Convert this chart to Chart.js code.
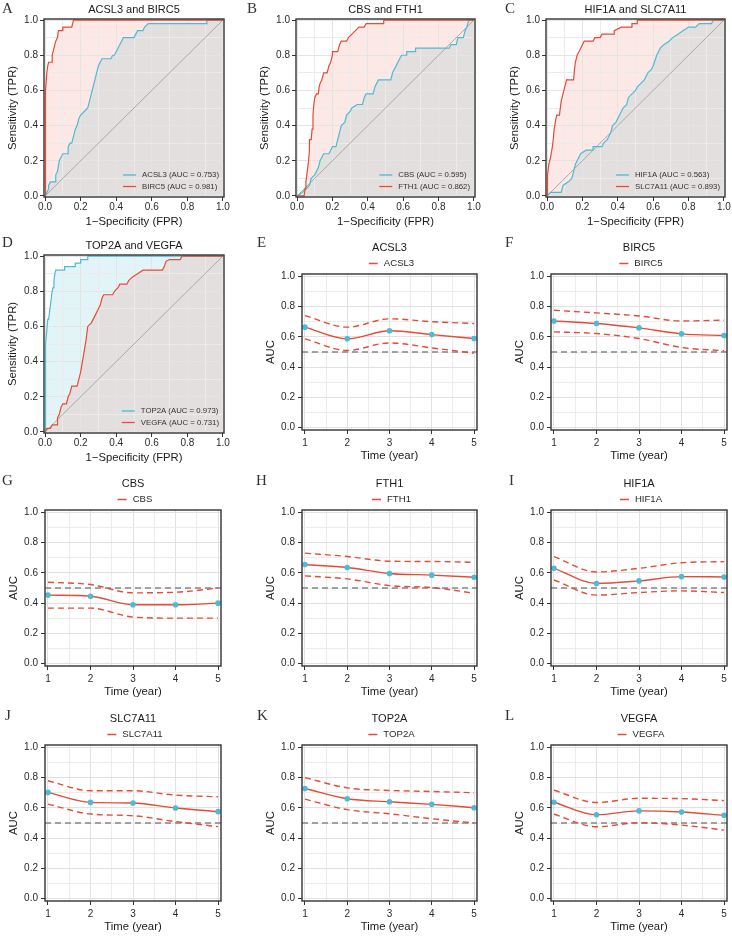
<!DOCTYPE html>
<html>
<head>
<meta charset="utf-8">
<script src="https://cdn.jsdelivr.net/npm/chart.js@4.4.1/dist/chart.umd.min.js"></script>
<style>
  html, body { margin: 0; padding: 0; background: #fff; }
  #fig { position: relative; width: 732px; height: 936px; }
  #fig canvas { position: absolute; left: 0; top: 0; }
</style>
</head>
<body>
<div id="fig"></div>
<script>
// ---- ROC curves: [FPR, TPR] corner points ----
const rocACSL3 = [[0,0],[0.01,0.02],[0.02,0.04],[0.02,0.06],[0.03,0.08],[0.06,0.08],[0.06,0.12],[0.07,0.14],[0.08,0.2],[0.09,0.22],[0.1,0.24],[0.13,0.24],[0.13,0.28],[0.14,0.3],[0.15,0.3],[0.16,0.34],[0.17,0.38],[0.18,0.4],[0.19,0.44],[0.2,0.46],[0.22,0.48],[0.24,0.5],[0.25,0.54],[0.26,0.58],[0.27,0.62],[0.28,0.66],[0.29,0.7],[0.3,0.74],[0.31,0.76],[0.32,0.78],[0.37,0.78],[0.38,0.8],[0.39,0.8],[0.4,0.82],[0.41,0.84],[0.42,0.86],[0.43,0.88],[0.44,0.9],[0.5,0.9],[0.51,0.92],[0.52,0.94],[0.55,0.94],[0.56,0.96],[0.58,0.98],[0.91,0.98],[0.91,1],[1,1]];
const rocBIRC5 = [[0,0],[0,0.44],[0.005,0.6],[0.01,0.7],[0.015,0.74],[0.02,0.76],[0.04,0.76],[0.04,0.8],[0.05,0.84],[0.055,0.86],[0.06,0.88],[0.07,0.9],[0.075,0.94],[0.1,0.94],[0.1,0.96],[0.15,0.96],[0.16,1],[1,1]];
const rocCBS = [[0,0],[0.03,0.02],[0.05,0.04],[0.07,0.06],[0.08,0.1],[0.1,0.12],[0.12,0.16],[0.13,0.2],[0.15,0.24],[0.18,0.24],[0.19,0.26],[0.2,0.28],[0.22,0.28],[0.23,0.32],[0.24,0.36],[0.25,0.4],[0.27,0.42],[0.28,0.46],[0.3,0.48],[0.31,0.5],[0.34,0.52],[0.37,0.52],[0.38,0.56],[0.39,0.58],[0.43,0.58],[0.44,0.62],[0.45,0.64],[0.46,0.66],[0.53,0.66],[0.54,0.7],[0.55,0.72],[0.56,0.74],[0.57,0.76],[0.58,0.78],[0.59,0.8],[0.62,0.8],[0.62,0.82],[0.67,0.82],[0.67,0.84],[0.86,0.84],[0.87,0.86],[0.9,0.86],[0.91,0.9],[0.94,0.9],[0.95,0.94],[0.96,0.96],[0.97,1],[1,1]];
const rocFTH1 = [[0,0],[0.04,0],[0.045,0.04],[0.05,0.08],[0.055,0.12],[0.06,0.16],[0.065,0.2],[0.07,0.26],[0.07,0.32],[0.08,0.32],[0.085,0.38],[0.09,0.46],[0.095,0.52],[0.1,0.56],[0.11,0.58],[0.12,0.58],[0.125,0.62],[0.13,0.64],[0.14,0.66],[0.15,0.7],[0.17,0.7],[0.18,0.74],[0.19,0.76],[0.2,0.8],[0.2,0.82],[0.23,0.82],[0.24,0.86],[0.25,0.88],[0.28,0.88],[0.29,0.9],[0.31,0.92],[0.33,0.94],[0.35,0.96],[0.38,0.96],[0.39,0.98],[0.49,0.98],[0.49,1],[1,1]];
const rocHIF1A = [[0,0],[0.02,0.02],[0.08,0.02],[0.09,0.06],[0.12,0.08],[0.14,0.1],[0.15,0.14],[0.16,0.18],[0.17,0.2],[0.18,0.22],[0.19,0.24],[0.22,0.26],[0.26,0.26],[0.26,0.28],[0.31,0.28],[0.32,0.3],[0.34,0.32],[0.36,0.36],[0.37,0.4],[0.39,0.42],[0.41,0.46],[0.43,0.5],[0.45,0.52],[0.46,0.56],[0.48,0.58],[0.5,0.6],[0.51,0.62],[0.53,0.64],[0.55,0.66],[0.57,0.7],[0.59,0.72],[0.6,0.74],[0.62,0.8],[0.64,0.84],[0.66,0.86],[0.69,0.88],[0.71,0.9],[0.74,0.92],[0.77,0.94],[0.8,0.96],[0.84,0.96],[0.86,0.98],[0.93,0.98],[0.94,1],[1,1]];
const rocSLC7A11 = [[0,0],[0,0.06],[0.005,0.12],[0.01,0.18],[0.02,0.22],[0.03,0.28],[0.035,0.32],[0.04,0.38],[0.05,0.44],[0.055,0.46],[0.07,0.46],[0.075,0.5],[0.08,0.54],[0.09,0.58],[0.1,0.62],[0.11,0.66],[0.15,0.66],[0.155,0.72],[0.16,0.76],[0.17,0.8],[0.18,0.82],[0.19,0.84],[0.2,0.86],[0.21,0.88],[0.26,0.88],[0.27,0.9],[0.3,0.9],[0.31,0.92],[0.38,0.92],[0.38,0.94],[0.42,0.96],[0.48,0.96],[0.48,0.98],[0.51,0.98],[0.51,1],[1,1]];
const rocTOP2A = [[0,0],[0,0.3],[0.005,0.5],[0.01,0.58],[0.015,0.64],[0.02,0.64],[0.025,0.68],[0.03,0.72],[0.035,0.76],[0.04,0.8],[0.045,0.82],[0.05,0.86],[0.055,0.9],[0.06,0.92],[0.11,0.92],[0.11,0.94],[0.17,0.94],[0.17,0.96],[0.2,0.96],[0.2,0.98],[0.24,0.98],[0.24,1],[1,1]];
const rocVEGFA = [[0,0],[0.01,0.02],[0.03,0.02],[0.04,0.04],[0.07,0.04],[0.07,0.08],[0.08,0.1],[0.09,0.14],[0.1,0.16],[0.12,0.16],[0.13,0.2],[0.14,0.22],[0.15,0.26],[0.18,0.26],[0.19,0.3],[0.2,0.34],[0.21,0.4],[0.22,0.46],[0.23,0.52],[0.24,0.6],[0.26,0.62],[0.27,0.64],[0.28,0.66],[0.3,0.7],[0.31,0.72],[0.32,0.76],[0.33,0.78],[0.38,0.78],[0.39,0.8],[0.41,0.82],[0.42,0.84],[0.46,0.84],[0.47,0.86],[0.49,0.88],[0.52,0.9],[0.55,0.92],[0.66,0.92],[0.67,0.94],[0.68,0.97],[0.7,0.98],[0.76,0.98],[0.77,1],[1,1]];
const diagonal = [[0,0],[1,1]];

const rocBlueGenes = ['ACSL3', 'CBS', 'HIF1A', 'TOP2A'];
const rocRedGenes = ['BIRC5', 'FTH1', 'SLC7A11', 'VEGFA'];
const rocBlueAuc = [0.753, 0.595, 0.563, 0.973];
const rocRedAuc = [0.981, 0.862, 0.893, 0.731];

// ---- time-dependent AUC (years 1..5): estimate, upper and lower bounds ----
const years = [1, 2, 3, 4, 5];
const chanceLevel = 0.5;
const aucACSL3 = [0.664, 0.587, 0.640, 0.615, 0.589];
const upACSL3 = [0.740, 0.664, 0.719, 0.700, 0.688];
const loACSL3 = [0.587, 0.510, 0.560, 0.527, 0.492];
const aucBIRC5 = [0.705, 0.688, 0.659, 0.620, 0.609];
const upBIRC5 = [0.776, 0.758, 0.738, 0.705, 0.710];
const loBIRC5 = [0.633, 0.622, 0.589, 0.530, 0.508];
const aucCBS = [0.453, 0.446, 0.389, 0.389, 0.400];
const upCBS = [0.538, 0.523, 0.468, 0.472, 0.499];
const loCBS = [0.367, 0.367, 0.308, 0.301, 0.301];
const aucFTH1 = [0.655, 0.635, 0.596, 0.585, 0.571];
const upFTH1 = [0.730, 0.708, 0.677, 0.675, 0.670];
const loFTH1 = [0.580, 0.560, 0.516, 0.503, 0.466];
const aucHIF1A = [0.630, 0.530, 0.547, 0.575, 0.573];
const upHIF1A = [0.707, 0.606, 0.630, 0.667, 0.674];
const loHIF1A = [0.553, 0.453, 0.470, 0.481, 0.470];
const aucSLC7A11 = [0.702, 0.636, 0.632, 0.599, 0.575];
const upSLC7A11 = [0.779, 0.713, 0.713, 0.684, 0.673];
const loSLC7A11 = [0.625, 0.559, 0.548, 0.509, 0.476];
const aucTOP2A = [0.728, 0.660, 0.640, 0.623, 0.601];
const upTOP2A = [0.800, 0.732, 0.715, 0.708, 0.700];
const loTOP2A = [0.658, 0.588, 0.561, 0.528, 0.500];
const aucVEGFA = [0.637, 0.554, 0.580, 0.573, 0.551];
const upVEGFA = [0.716, 0.635, 0.663, 0.661, 0.648];
const loVEGFA = [0.558, 0.475, 0.501, 0.486, 0.453];

// ---- styling / layout ----
const RED = '#E64B35';
const BLUE = '#4DBBD5';
const SANS = '"Liberation Sans", Arial, sans-serif';
const SERIF = '"Liberation Serif", "Times New Roman", serif';
const W = 732, H = 936;
const YAXIS_W = 40, XAXIS_H = 34;
const X_MIN_T = 0.93, X_MAX_T = 5.07;

const rocPanels = [
  { letter: 'A', at: [2, 13], box: [44, 19, 224, 197], i: 0, blue: rocACSL3, red: rocBIRC5 },
  { letter: 'B', at: [247, 13], box: [296, 19, 475, 197], i: 1, blue: rocCBS, red: rocFTH1 },
  { letter: 'C', at: [505, 13], box: [546, 19, 725, 197], i: 2, blue: rocHIF1A, red: rocSLC7A11 },
  { letter: 'D', at: [2, 247], box: [44, 255, 224, 433], i: 3, blue: rocTOP2A, red: rocVEGFA }
];

const timePanels = [
  { letter: 'E', at: [257, 247], box: [302, 274, 477, 430], gene: 'ACSL3', auc: aucACSL3, up: upACSL3, lo: loACSL3 },
  { letter: 'F', at: [505, 247], box: [551, 274, 727, 430], gene: 'BIRC5', auc: aucBIRC5, up: upBIRC5, lo: loBIRC5 },
  { letter: 'G', at: [2, 485], box: [45, 510, 221, 666], gene: 'CBS', auc: aucCBS, up: upCBS, lo: loCBS },
  { letter: 'H', at: [256, 485], box: [302, 510, 477, 666], gene: 'FTH1', auc: aucFTH1, up: upFTH1, lo: loFTH1 },
  { letter: 'I', at: [509, 485], box: [551, 510, 727, 666], gene: 'HIF1A', auc: aucHIF1A, up: upHIF1A, lo: loHIF1A },
  { letter: 'J', at: [5, 720], box: [45, 745, 221, 901], gene: 'SLC7A11', auc: aucSLC7A11, up: upSLC7A11, lo: loSLC7A11 },
  { letter: 'K', at: [257, 720], box: [302, 745, 477, 901], gene: 'TOP2A', auc: aucTOP2A, up: upTOP2A, lo: loTOP2A },
  { letter: 'L', at: [505, 720], box: [551, 745, 727, 901], gene: 'VEGFA', auc: aucVEGFA, up: upVEGFA, lo: loVEGFA }
];

function isMajor(v, step) {
  return Math.abs(v / step - Math.round(v / step)) < 1e-6;
}

function tickList(lo, hi, step) {
  const out = [];
  for (let v = lo; v <= hi + 1e-9; v += step) out.push(+v.toFixed(3));
  return out;
}

function toXY(pairs) {
  return pairs.map(([x, y]) => ({ x, y }));
}

function axis(o) {
  return {
    type: 'linear',
    min: o.min,
    max: o.max,
    afterBuildTicks: s => { s.ticks = o.ticks.map(v => ({ value: v })); },
    afterFit: s => { if (o.horizontal) s.height = XAXIS_H; else s.width = YAXIS_W; },
    border: { display: false },
    grid: {
      color: c => (!c.tick || isMajor(c.tick.value, o.major)) ? o.gridMajor : o.gridMinor,
      lineWidth: 1,
      tickLength: 4,
      tickWidth: 1,
      tickColor: c => (c.tick && isMajor(c.tick.value, o.major)) ? '#333' : 'rgba(0,0,0,0)'
    },
    ticks: {
      autoSkip: false,
      maxRotation: 0,
      minRotation: 0,
      padding: o.tickPad,
      color: '#2a2a2a',
      font: { family: SANS, size: 10 },
      callback: v => isMajor(v, o.major) ? o.fmt(v) : ''
    },
    title: {
      display: true,
      text: o.text,
      color: '#1a1a1a',
      font: { family: SANS, size: 11.3 },
      padding: o.horizontal ? { top: 0, bottom: o.titlePad } : { top: o.titlePad, bottom: 0 }
    }
  };
}

// frame, panel letter, title and legend
const panelDeco = {
  id: 'panelDeco',
  afterDraw(chart, args, o) {
    const ctx = chart.ctx;
    const a = chart.chartArea;
    const cx = (a.left + a.right) / 2;
    ctx.save();
    ctx.strokeStyle = '#333';
    ctx.lineWidth = 1.4;
    ctx.strokeRect(a.left, a.top, a.right - a.left, a.bottom - a.top);

    ctx.fillStyle = '#333';
    ctx.font = '15px ' + SERIF;
    ctx.textAlign = 'left';
    ctx.textBaseline = 'alphabetic';
    ctx.fillText(o.letter, o.at[0], o.at[1]);

    ctx.fillStyle = '#1a1a1a';
    ctx.font = '11px ' + SANS;
    ctx.textAlign = 'center';
    ctx.textBaseline = 'middle';
    ctx.fillText(o.title, cx, a.top - o.titleGap);

    if (o.kind === 'roc') {
      ctx.font = '7.8px ' + SANS;
      const maxW = Math.max(...o.legend.map(e => ctx.measureText(e.text).width));
      const tx = a.right - 5 - maxW;
      o.legend.forEach((e, k) => {
        const y = a.bottom - 22 + k * 11.5;
        ctx.strokeStyle = e.color;
        ctx.lineWidth = 1.3;
        ctx.beginPath();
        ctx.moveTo(tx - 19, y);
        ctx.lineTo(tx - 6, y);
        ctx.stroke();
        ctx.fillStyle = '#333';
        ctx.textAlign = 'left';
        ctx.fillText(e.text, tx, y);
      });
    } else {
      ctx.font = '9.6px ' + SANS;
      const tw = ctx.measureText(o.gene).width;
      const x0 = cx + 2 - (15 + tw) / 2;
      const y = a.top - 10.5;
      ctx.strokeStyle = RED;
      ctx.lineWidth = 1.5;
      ctx.beginPath();
      ctx.moveTo(x0, y);
      ctx.lineTo(x0 + 9, y);
      ctx.stroke();
      ctx.fillStyle = '#2a2a2a';
      ctx.textAlign = 'left';
      ctx.fillText(o.gene, x0 + 15, y);
    }
    ctx.restore();
  }
};

const fig = document.getElementById('fig');
function newCanvas() {
  const c = document.createElement('canvas');
  c.width = W;
  c.height = H;
  c.style.width = W + 'px';
  c.style.height = H + 'px';
  fig.appendChild(c);
  return c;
}

function paddingFor(box) {
  const [L, T, R, B] = box;
  return { left: L - YAXIS_W, top: T, right: W - R, bottom: H - B - XAXIS_H };
}

const rocTicks = tickList(0, 1, 0.1);

for (const p of rocPanels) {
  const blueName = rocBlueGenes[p.i], redName = rocRedGenes[p.i];
  new Chart(newCanvas(), {
    type: 'line',
    data: {
      datasets: [
        { label: redName, data: toXY(p.red), borderColor: RED, borderWidth: 1.2, pointRadius: 0,
          fill: 'origin', backgroundColor: 'rgba(230,75,53,0.13)', order: 0 },
        { label: blueName, data: toXY(p.blue), borderColor: BLUE, borderWidth: 1.2, pointRadius: 0,
          fill: 'origin', backgroundColor: 'rgba(77,187,213,0.16)', order: 1 },
        { label: 'ref', data: toXY(diagonal), borderColor: '#a8a8a8', borderWidth: 1, pointRadius: 0,
          fill: false, order: 2 }
      ]
    },
    options: {
      responsive: false,
      animation: false,
      events: [],
      layout: { padding: paddingFor(p.box) },
      scales: {
        x: axis({ horizontal: true, min: -0.006, max: 1.006, ticks: rocTicks, major: 0.2, fmt: v => v.toFixed(1),
                  text: '1\u2212Specificity (FPR)', titlePad: 2, tickPad: 0.5, gridMajor: '#e4e4e4', gridMinor: '#ebebeb' }),
        y: axis({ horizontal: false, min: -0.006, max: 1.006, ticks: rocTicks, major: 0.2, fmt: v => v.toFixed(1),
                  text: 'Sensitivity (TPR)', titlePad: 2.5, tickPad: 2, gridMajor: '#e4e4e4', gridMinor: '#ebebeb' })
      },
      plugins: {
        legend: { display: false },
        tooltip: { enabled: false },
        filler: { drawTime: 'beforeDraw' },
        panelDeco: {
          kind: 'roc', letter: p.letter, at: p.at, titleGap: 9,
          title: blueName + ' and ' + redName,
          legend: [
            { text: blueName + ' (AUC = ' + rocBlueAuc[p.i].toFixed(3) + ')', color: BLUE },
            { text: redName + ' (AUC = ' + rocRedAuc[p.i].toFixed(3) + ')', color: RED }
          ]
        }
      }
    },
    plugins: [panelDeco]
  });
}

const timeXTicks = tickList(1, 5, 0.5);
const timeYTicks = tickList(0, 1, 0.1);

for (const p of timePanels) {
  const series = arr => years.map((x, k) => ({ x, y: arr[k] }));
  new Chart(newCanvas(), {
    type: 'line',
    data: {
      datasets: [
        { label: p.gene, data: series(p.auc), borderColor: RED, borderWidth: 1.4,
          pointRadius: 2.8, pointBackgroundColor: BLUE, pointBorderWidth: 0,
          cubicInterpolationMode: 'monotone', fill: false, order: 0 },
        { label: 'upper', data: series(p.up), borderColor: RED, borderWidth: 1.4, borderDash: [6, 4],
          pointRadius: 0, cubicInterpolationMode: 'monotone', fill: false, order: 1 },
        { label: 'lower', data: series(p.lo), borderColor: RED, borderWidth: 1.4, borderDash: [6, 4],
          pointRadius: 0, cubicInterpolationMode: 'monotone', fill: false, order: 1 },
        { label: 'chance', data: [{ x: X_MIN_T, y: chanceLevel }, { x: X_MAX_T, y: chanceLevel }],
          borderColor: '#858585', borderWidth: 1.4, borderDash: [6, 4], pointRadius: 0, fill: false, order: 2 }
      ]
    },
    options: {
      responsive: false,
      animation: false,
      events: [],
      layout: { padding: paddingFor(p.box) },
      scales: {
        x: axis({ horizontal: true, min: X_MIN_T, max: X_MAX_T, ticks: timeXTicks, major: 1, fmt: v => String(v),
                  text: 'Time (year)', titlePad: 1.3, tickPad: 3.5, gridMajor: '#e1e1e1', gridMinor: '#ececec' }),
        y: axis({ horizontal: false, min: -0.015, max: 1.015, ticks: timeYTicks, major: 0.2, fmt: v => v.toFixed(1),
                  text: 'AUC', titlePad: 2.5, tickPad: 3, gridMajor: '#e1e1e1', gridMinor: '#ececec' })
      },
      plugins: {
        legend: { display: false },
        tooltip: { enabled: false },
        panelDeco: { kind: 'time', letter: p.letter, at: p.at, titleGap: 26.5, title: p.gene, gene: p.gene }
      }
    },
    plugins: [panelDeco]
  });
}
</script>
</body>
</html>
